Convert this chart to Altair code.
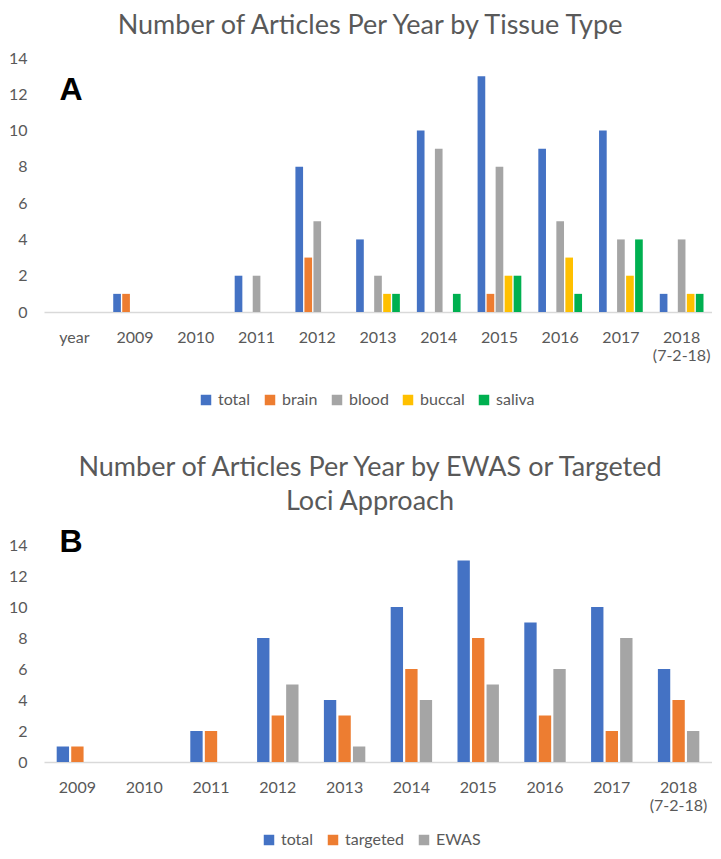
import altair as alt
import pandas as pd

# ---------------- Panel A data ----------------
years_a = ["year", "2009", "2010", "2011", "2012", "2013", "2014", "2015",
           "2016", "2017", "2018 (7-2-18)"]
series_a = ["total", "brain", "blood", "buccal", "saliva"]
total_a = [0, 1, 0, 2, 8, 4, 10, 13, 9, 10, 1]
brain_a = [0, 1, 0, 0, 3, 0, 0, 1, 0, 0, 0]
blood_a = [0, 0, 0, 2, 5, 2, 9, 8, 5, 4, 4]
buccal_a = [0, 0, 0, 0, 0, 1, 0, 2, 3, 2, 1]
saliva_a = [0, 0, 0, 0, 0, 1, 1, 2, 1, 4, 1]
colors_a = ["#4472C4", "#ED7D31", "#A5A5A5", "#FFC000", "#00B050"]

# ---------------- Panel B data ----------------
years_b = ["2009", "2010", "2011", "2012", "2013", "2014", "2015",
           "2016", "2017", "2018 (7-2-18)"]
series_b = ["total", "targeted", "EWAS"]
total_b = [1, 0, 2, 8, 4, 10, 13, 9, 10, 6]
targeted_b = [1, 0, 2, 3, 3, 6, 8, 3, 2, 4]
ewas_b = [0, 0, 0, 5, 1, 4, 5, 6, 8, 2]
colors_b = ["#4472C4", "#ED7D31", "#A5A5A5"]

y_ticks = [0, 2, 4, 6, 8, 10, 12, 14]

TXT = "#595959"
FONT = "Lato"


def long_df(years, series, cols):
    rows = []
    for s, vals in zip(series, cols):
        for yv, v in zip(years, vals):
            rows.append({"year": yv, "series": s, "value": v})
    return pd.DataFrame(rows)


df_a = long_df(years_a, series_a, [total_a, brain_a, blood_a, buccal_a, saliva_a])
df_b = long_df(years_b, series_b, [total_b, targeted_b, ewas_b])


def panel(df, years, series, colors, w, h, title, letter, lx, ly,
          pad_inner, letter_xy, title_offset):
    bars = alt.Chart(df).mark_bar(width=alt.RelativeBandSize(1.0)).encode(
        x=alt.X("year:N", sort=years,
                scale=alt.Scale(paddingInner=pad_inner, paddingOuter=pad_inner / 2),
                axis=alt.Axis(title=None, labelAngle=0,
                              labelExpr="split(datum.label, ' ')",
                              labelLineHeight=18, labelPadding=17,
                              ticks=False, domainColor="#D9D9D9", domainWidth=1.5,
                              labelFont=FONT, labelFontSize=16, labelColor=TXT,
                              grid=False)),
        xOffset=alt.XOffset("series:N", sort=series,
                            scale=alt.Scale(paddingInner=0.15, paddingOuter=0)),
        y=alt.Y("value:Q",
                scale=alt.Scale(domain=[0, 14], nice=False),
                axis=alt.Axis(title=None, values=y_ticks, ticks=False, domain=False,
                              grid=False, labelPadding=17, labelFont=FONT,
                              labelFontSize=16, labelColor=TXT)),
        color=alt.Color("series:N", sort=series,
                        scale=alt.Scale(domain=series, range=colors),
                        legend=alt.Legend(title=None, orient="none", legendX=lx, legendY=ly,
                                          direction="horizontal", symbolType="square",
                                          symbolSize=110, symbolStrokeWidth=0,
                                          labelFont=FONT, labelFontSize=16,
                                          labelColor=TXT, columnPadding=11,
                                          labelOffset=4)),
    )
    lab = alt.Chart(pd.DataFrame({"t": [letter]})).mark_text(
        font="Liberation Sans", fontWeight="bold", fontSize=32, color="black",
        align="center", baseline="middle"
    ).encode(text="t:N", x=alt.value(letter_xy[0]), y=alt.value(letter_xy[1]))
    return alt.layer(bars, lab).properties(
        width=w, height=h,
        title=alt.TitleParams(text=title, font=FONT, fontSize=27, fontWeight="normal",
                              color=TXT, anchor="middle", offset=title_offset,
                              lineHeight=34, dx=-8),
    )


top = panel(df_a, years_a, series_a, colors_a, 668, 254,
            "Number of Articles Per Year by Tissue Type", "A",
            154, 334, 0.28, (27, 32), 10)
bottom = panel(df_b, years_b, series_b, colors_b, 668, 217,
               ["Number of Articles Per Year by EWAS or Targeted", "Loci Approach"], "B",
               217, 287, 0.38, (27, -3), 10)

chart = alt.vconcat(top, bottom, spacing=46).properties(
    padding={"left": 0, "right": 0, "top": 4, "bottom": 0},
    background="white",
).configure_view(stroke=None).resolve_scale(
    color="independent", x="independent", xOffset="independent"
)

chart.save("out.html", embed_options={"renderer": "svg", "actions": False})
